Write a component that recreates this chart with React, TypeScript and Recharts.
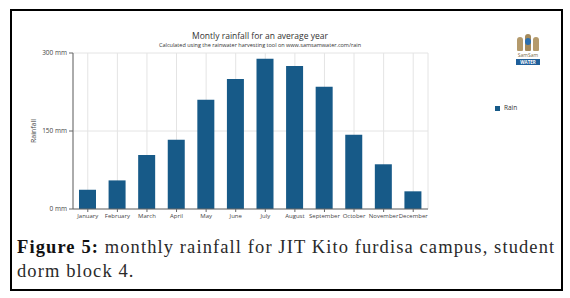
import { BarChart, Bar, XAxis, YAxis, CartesianGrid, Legend } from "recharts";

const months = [
  "January",
  "February",
  "March",
  "April",
  "May",
  "June",
  "July",
  "August",
  "September",
  "October",
  "November",
  "December",
];
const rainfall = [37, 55, 104, 133, 210, 250, 289, 275, 235, 143, 86, 34];
const yTicks = [0, 150, 300];

const data = months.map((month, i) => ({ month, rain: rainfall[i] }));

const sans = "'Open Sans', 'Noto Sans', sans-serif";

function Logo() {
  return (
    <div style={{ position: "absolute", left: 514, top: 33, width: 28, height: 34 }}>
      <div style={{ position: "absolute", left: 3, top: 4, width: 6, height: 14, background: "#b49a6c", borderRadius: "3px 3px 1px 1px" }} />
      <div style={{ position: "absolute", left: 11, top: 1, width: 6, height: 17, background: "#a48a5c", borderRadius: "3px 3px 1px 1px" }} />
      <div style={{ position: "absolute", left: 19, top: 4, width: 6, height: 14, background: "#b49a6c", borderRadius: "3px 3px 1px 1px" }} />
      <div style={{ position: "absolute", left: 11, top: 5, width: 6, height: 7, background: "#2b6fb0", borderRadius: "50%" }} />
      <div style={{ position: "absolute", left: 0, top: 19, width: 28, textAlign: "center", fontFamily: sans, fontSize: 5, color: "#7a6a4a", lineHeight: "6px" }}>
        SamSam
      </div>
      <div style={{ position: "absolute", left: 2, top: 26, width: 24, height: 6, background: "#1f5f9a", color: "#fff", fontFamily: sans, fontSize: 4.5, lineHeight: "6px", textAlign: "center", fontWeight: 700 }}>
        WATER
      </div>
    </div>
  );
}

export default function App() {
  return (
    <div style={{ position: "absolute", left: 0, top: 0, width: 570, height: 298, background: "#fff" }}>
      <div
        style={{
          position: "absolute",
          left: 10,
          top: 9,
          width: 549,
          height: 278,
          border: "2px solid #000",
        }}
      />
      <div style={{ position: "absolute", left: 0, top: 0 }}>
        <BarChart
          width={570}
          height={240}
          data={data}
          margin={{ top: 53, right: 82, bottom: 11, left: 33 }}
        >
          <CartesianGrid stroke="#e4e4e4" strokeWidth={1} />
          <XAxis
            dataKey="month"
            interval={0}
            height={20}
            axisLine={{ stroke: "#666" }}
            tickLine={{ stroke: "#666" }}
            tickSize={3}
            tick={{ fill: "#444", fontSize: 6, fontFamily: sans }}
          />
          <YAxis
            width={40}
            domain={[0, 300]}
            ticks={yTicks}
            tickFormatter={(v: number) => `${v}\u00a0mm`}
            axisLine={{ stroke: "#666" }}
            tickLine={{ stroke: "#666" }}
            tickSize={4}
            tick={{ fill: "#444", fontSize: 6.5, fontFamily: sans }}
          />
          <Legend
            layout="vertical"
            align="right"
            verticalAlign="top"
            iconType="square"
            iconSize={5}
            wrapperStyle={{ top: 103, left: 495, width: 60, fontFamily: sans, fontSize: 6.5 }}
            formatter={(value: string) => <span style={{ color: "#333" }}>{value}</span>}
          />
          <Bar dataKey="rain" name="Rain" fill="#175a88" barSize={17} isAnimationActive={false} />
        </BarChart>
      </div>
      <div
        style={{
          position: "absolute",
          left: 120,
          top: 31,
          width: 280,
          textAlign: "center",
          fontFamily: sans,
          fontSize: 8.5,
          color: "#333",
          lineHeight: "10px",
        }}
      >
        Montly rainfall for an average year
      </div>
      <div
        style={{
          position: "absolute",
          left: 120,
          top: 42,
          width: 280,
          textAlign: "center",
          fontFamily: sans,
          fontSize: 5.5,
          color: "#333",
          lineHeight: "7px",
        }}
      >
        Calculated using the rainwater harvesting tool on www.samsamwater.com/rain
      </div>
      <div
        style={{
          position: "absolute",
          left: 33,
          top: 131,
          transform: "translate(-50%, -50%) rotate(-90deg)",
          fontFamily: sans,
          fontSize: 7,
          color: "#444",
          whiteSpace: "nowrap",
        }}
      >
        Rainfall
      </div>
      <Logo />
      <div
        style={{
          position: "absolute",
          left: 17,
          top: 235,
          fontFamily: "'Liberation Serif', serif",
          fontSize: 18.5,
          lineHeight: "24px",
          color: "#2a2a2a",
          whiteSpace: "nowrap",
          letterSpacing: 1.1,
        }}
      >
        <b style={{ color: "#111" }}>Figure 5:</b> monthly rainfall for JIT Kito furdisa campus, student
        <br />
        dorm block 4.
      </div>
    </div>
  );
}
